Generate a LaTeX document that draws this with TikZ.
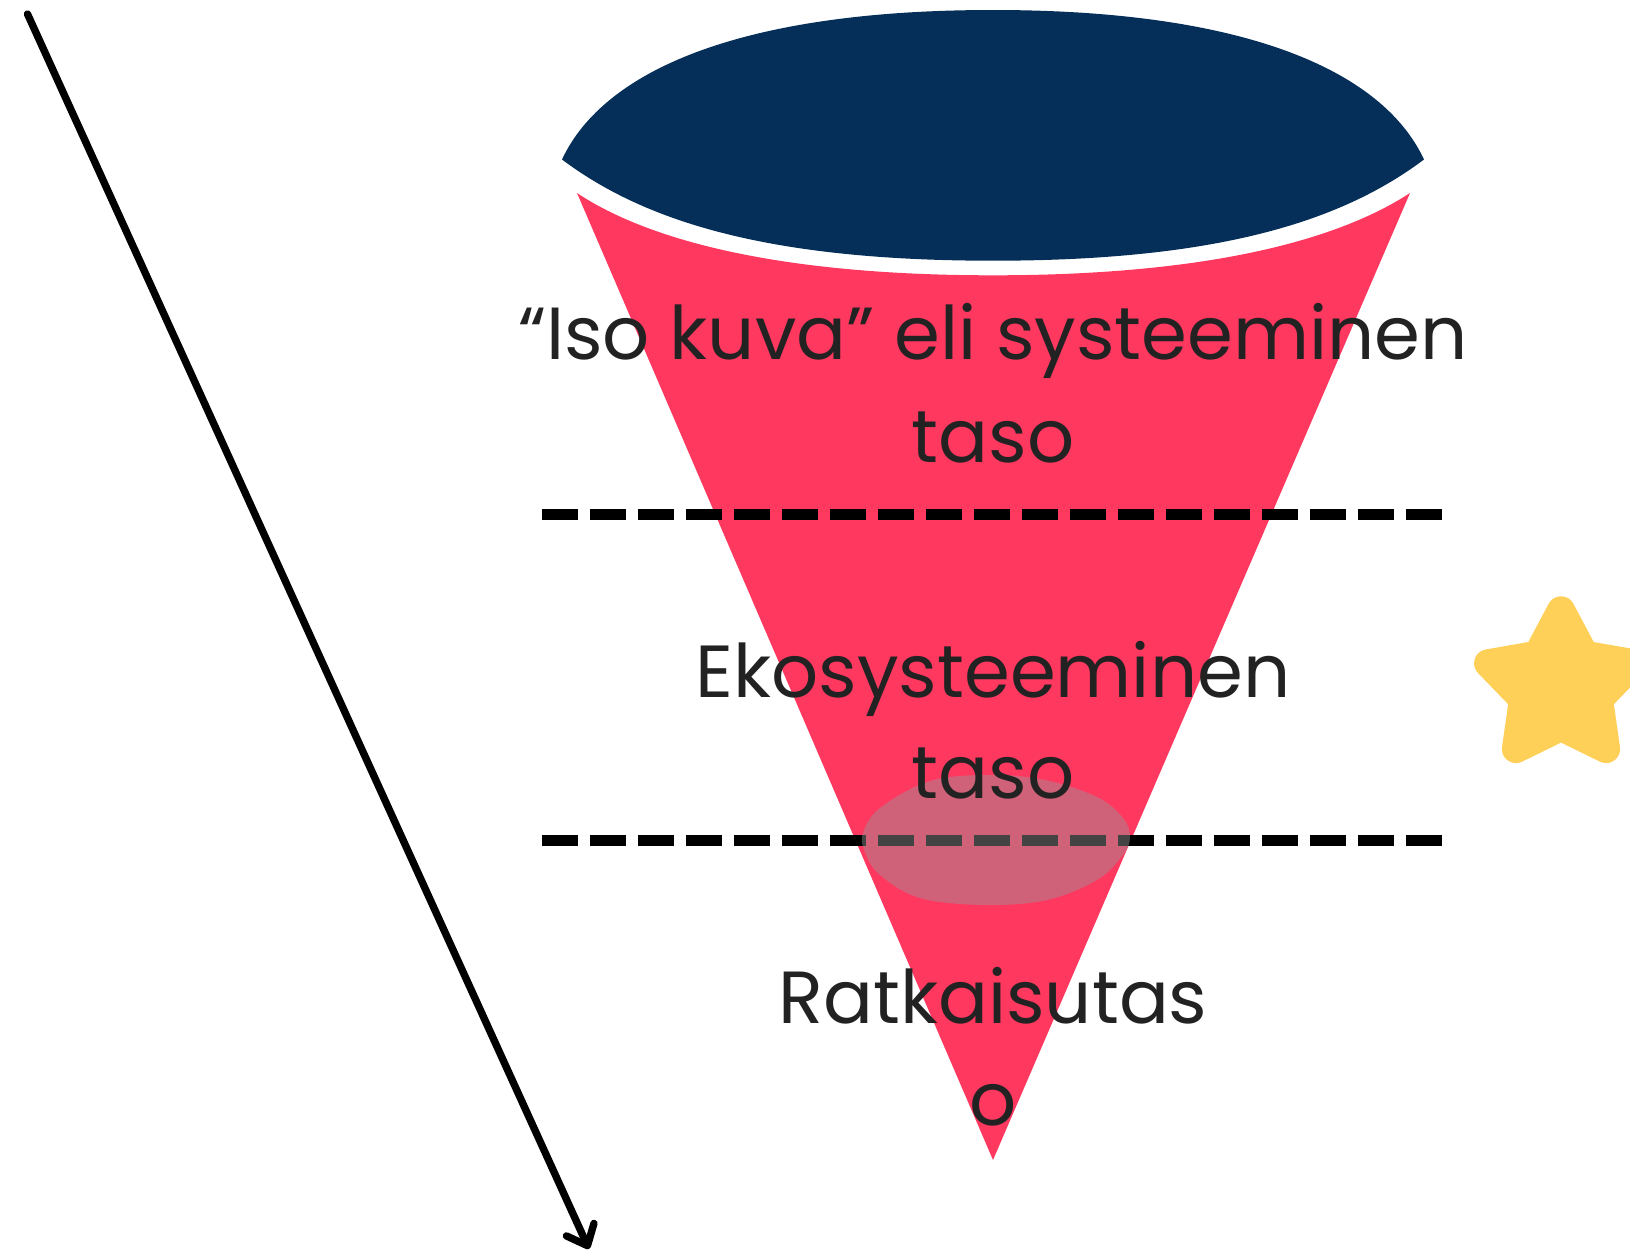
\documentclass[tikz,border=0pt]{standalone}
\usepackage{fontspec}
\setmainfont{Poppins}
\usetikzlibrary{arrows.meta}
\definecolor{funnelpink}{RGB}{255,56,96}
\definecolor{funnelnavy}{RGB}{5,46,88}
\definecolor{staryellow}{RGB}{255,208,88}
\definecolor{blobgray}{RGB}{150,150,150}
\definecolor{textdark}{RGB}{34,34,34}
\tikzset{
  levelline/.style={line width=3.13pt, dash pattern=on 10.24pt off 3.414pt},
  leveltext/.style={anchor=base, inner sep=0pt, text=textdark, font=\fontsize{21}{28}\selectfont},
  arrowline/.style={line width=2.1pt, line cap=round, line join=round, -{Straight Barb[length=5pt,width=8.6pt,round]}},
  starshape/.style={fill=staryellow, draw=staryellow, line width=7.97pt, line join=round},
}
\begin{document}
\begin{tikzpicture}[x=0.01cm,y=-0.01cm]
\useasboundingbox (0,0) rectangle (1630,1251);
\clip (0,0) rectangle (1630,1251);
% funnel body
\fill[funnelpink] (577,193) .. controls (640,235) and (763,275.3) .. (993,275.3)
  .. controls (1223,275.3) and (1346,235) .. (1410,193) -- (993,1160) -- cycle;
% funnel top
\fill[funnelnavy] (562,159.5) .. controls (604,69.5) and (743,10) .. (993,10)
  .. controls (1243,10) and (1382,69.5) .. (1424,159.5)
  .. controls (1344,219.5) and (1223,260.7) .. (993,260.7)
  .. controls (763,260.7) and (642,219.5) .. (562,159.5) -- cycle;
% dashed level lines
\coordinate (l1a) at (542,514.5);
\coordinate (l1b) at (1442,514.5);
\coordinate (l2a) at (542,840);
\coordinate (l2b) at (1442,840);
\draw[levelline] (l1a) -- (l1b);
\draw[levelline] (l2a) -- (l2b);
% translucent blob
\fill[blobgray, opacity=0.45] plot[smooth cycle, tension=0.6] coordinates {
  (863,833) (880,808) (930,781) (990,775) (1045,780) (1097,797) (1123,818)
  (1130,838) (1122,856) (1097,880) (1047,900) (985,905) (920,898) (880,875) (865,852)};
% texts
\node[leveltext] (t1a) at (993,359) {“Iso kuva” eli systeeminen};
\node[leveltext] (t1b) at (993,462) {taso};
\node[leveltext] (t2a) at (993,697) {Ekosysteeminen};
\node[leveltext] (t2b) at (993,798) {taso};
\node[leveltext] (t3a) at (993,1023) {Ratkaisutas};
\node[leveltext] (t3b) at (993,1125) {o};
% star
\path[starshape, shift={(1561,687)}]
  (270:76.7) -- (306:40) -- (342:76.7) -- (18:40) -- (54:76.7) -- (90:40)
  -- (126:76.7) -- (162:40) -- (198:76.7) -- (234:40) -- cycle;
% arrow
\coordinate (arrowstart) at (27.5,14);
\coordinate (arrowtip) at (589,1249);
\draw[arrowline] (arrowstart) -- (arrowtip);
\end{tikzpicture}
\end{document}
